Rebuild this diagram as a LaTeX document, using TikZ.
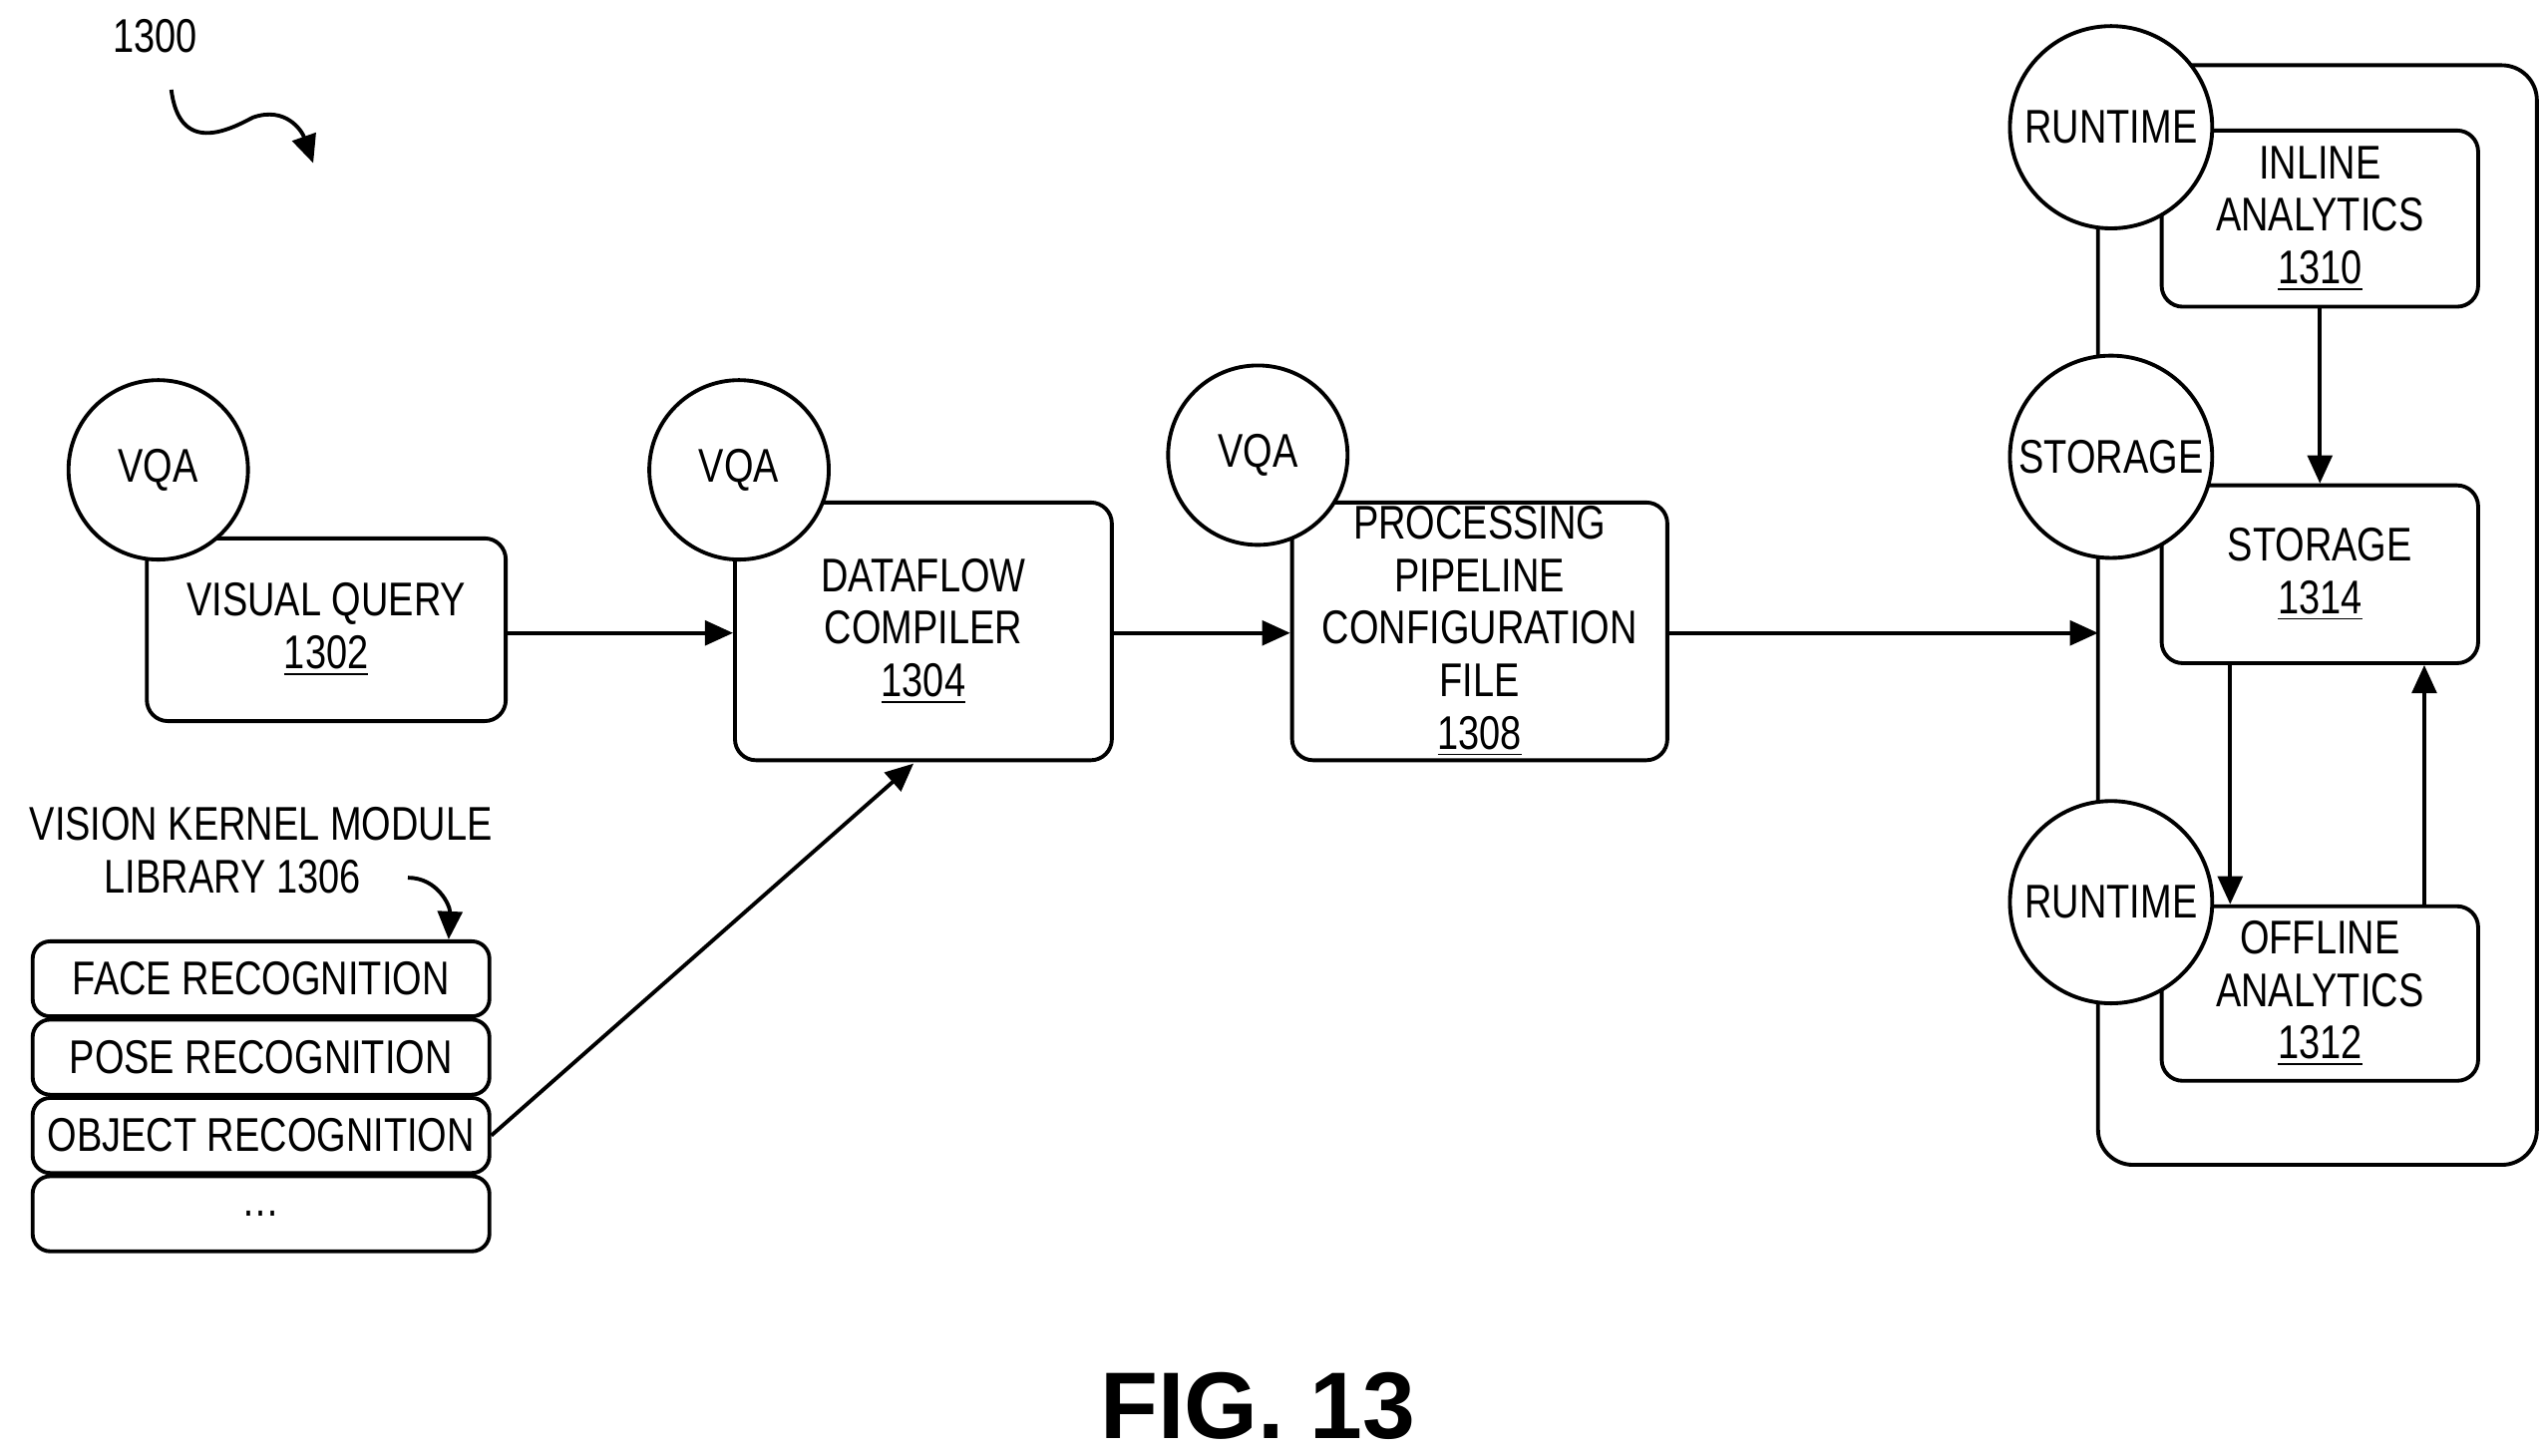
\documentclass[tikz,border=0pt]{standalone}
\usepackage{fontspec}
\setmainfont{Liberation Sans}
\newfontfamily\narrow[FakeStretch=0.8]{Liberation Sans}
\usetikzlibrary{arrows.meta}
\newcommand\pu{0.01636cm}
\tikzset{
  txt/.style={font=\narrow\fontsize{13.5}{15}\selectfont},
  box/.style={txt, draw, rounded corners=6pt, line width=1.1pt, align=center,
      inner sep=0pt},
  bubble/.style={txt, draw, circle, fill=white, line width=1.1pt, inner sep=0pt},
  conn/.style={line width=1.1pt, -{Triangle[length=8pt,width=7pt]}},
}
\begin{document}
\begin{tikzpicture}[x=\pu, y=-\pu]
    \useasboundingbox (0,0) rectangle (1560,892);

    \node [txt] (fig) at (95,22) {1300};
    \coordinate (figtip) at (192,100);
    \draw [conn] (105,55) .. controls (110,95) and (140,80) .. (155,72)
        .. controls (175,65) and (185,80) .. (figtip);

    % left column
    \node [box, minimum width=220*\pu, minimum height=112*\pu] (query)
        at (200,386) {VISUAL QUERY\\\underline{1302}};
    \node [bubble, minimum size=110*\pu] (vqa1) at (97,288) {VQA};

    \node [box, minimum width=231*\pu, minimum height=158*\pu] (compiler)
        at (566,387) {DATAFLOW\\COMPILER\\\underline{1304}};
    \node [bubble, minimum size=110*\pu] (vqa2) at (453,288) {VQA};

    \node [box, minimum width=230*\pu, minimum height=158*\pu] (config)
        at (907,387) {PROCESSING\\PIPELINE\\CONFIGURATION\\FILE\\\underline{1308}};
    \node [bubble, minimum size=110*\pu] (vqa3) at (771,279) {VQA};

    % kernel library
    \node [txt, align=center] (lib) at (160,521)
        {VISION KERNEL MODULE\\LIBRARY 1306\hspace*{1.2em}};
    \foreach \Name/\Y/\Text in {face/600/FACE RECOGNITION, pose/648/POSE RECOGNITION,
        object/696/OBJECT RECOGNITION, more/744/\dots}{
        \node [box, rounded corners=5pt, minimum width=280*\pu, minimum height=46*\pu]
            (\Name) at (160,\Y) {\Text};
      }
    \draw [conn] (250,538) .. controls (268,538) and (276,555) .. (face.north -| 275,0);

    % right system
    \draw [line width=1.1pt, rounded corners=10pt] (1286,40) rectangle (1555,714);
    \node [box, minimum width=194*\pu, minimum height=108*\pu] (inline)
        at (1422,134) {INLINE\\ANALYTICS\\\underline{1310}};
    \node [box, minimum width=194*\pu, minimum height=109*\pu] (storage)
        at (1422,352) {STORAGE\\\underline{1314}};
    \node [box, minimum width=194*\pu, minimum height=107*\pu] (offline)
        at (1422,609) {OFFLINE\\ANALYTICS\\\underline{1312}};
    \node [bubble, minimum size=124*\pu] (run1) at (1294,78) {RUNTIME};
    \node [bubble, minimum size=124*\pu] (stor) at (1294,280) {STORAGE};
    \node [bubble, minimum size=124*\pu] (run2) at (1294,553) {RUNTIME};
    \coordinate (sysin) at (1286,388);

    \draw [conn] (query.east |- 0,388) -- (compiler.west |- 0,388);
    \draw [conn] (compiler.east |- 0,388) -- (config.west |- 0,388);
    \draw [conn] (config.east |- 0,388) -- (sysin);
    \draw [conn] (object.east) -- (560,468);
    \draw [conn] (inline.south) -- (storage.north);
    \draw [conn] (storage.south -| 1367,0) -- (offline.north -| 1367,0);
    \draw [conn] (offline.north -| 1486,0) -- (storage.south -| 1486,0);

    \node [font=\bfseries\fontsize{27}{30}\selectfont] (caption) at (771,862) {FIG. 13};
\end{tikzpicture}
\end{document}
